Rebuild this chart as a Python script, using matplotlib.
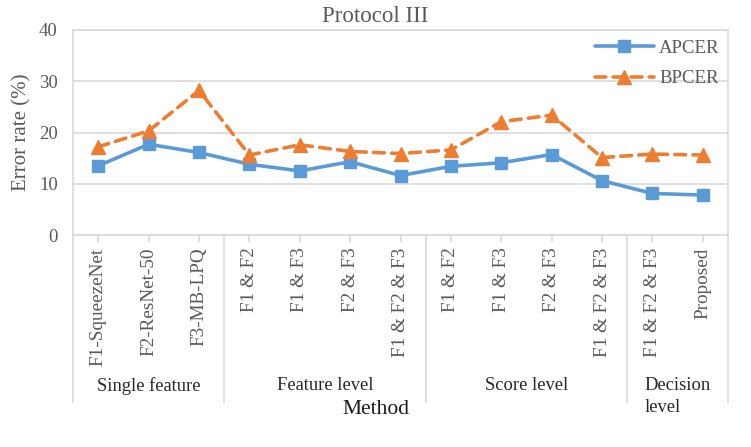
import matplotlib
matplotlib.use("Agg")
import matplotlib.pyplot as plt

# ----------------------------------------------------------------------
# data
# ----------------------------------------------------------------------
methods = [
    "F1-SqueezeNet", "F2-ResNet-50", "F3-MB-LPQ",
    "F1 & F2", "F1 & F3", "F2 & F3", "F1 & F2 & F3",
    "F1 & F2", "F1 & F3", "F2 & F3", "F1 & F2 & F3",
    "F1 & F2 & F3", "Proposed",
]
groups = ["Single feature", "Feature level", "Score level", "Decision\nlevel"]
group_sizes = [3, 4, 4, 2]

apcer = [13.5, 17.7, 16.1, 13.8, 12.5, 14.3, 11.6, 13.4, 14.1, 15.7, 10.6, 8.1, 7.8]
bpcer = [17.2, 20.3, 28.2, 15.6, 17.6, 16.3, 15.9, 16.6, 22.1, 23.4, 15.1, 15.8, 15.6]

BLUE = "#5B9BD5"
ORANGE = "#ED7D31"
GRID = "#D9D9D9"
TEXT = "#595959"

plt.rcParams["font.family"] = ["Liberation Serif", "DejaVu Serif"]

fig = plt.figure(figsize=(7.51, 4.47), dpi=100)
ax = fig.add_axes([73 / 751, 1 - 235 / 447, 655 / 751, 205 / 447])

x = list(range(len(methods)))
ax.plot(x, apcer, color=BLUE, lw=2.6, marker="s", ms=8.5, label="APCER",
        solid_capstyle="round", zorder=3)
ax.plot(x, bpcer, color=ORANGE, lw=2.6, ls=(0, (3, 2)), marker="^", ms=9.5,
        label="BPCER", dash_capstyle="round", zorder=3)

ax.set_xlim(-0.5, len(methods) - 0.5)
ax.set_ylim(0, 40)
ax.set_yticks([0, 10, 20, 30, 40])
ax.yaxis.grid(True, color=GRID, lw=1.2)
ax.set_axisbelow(True)
for s in ax.spines.values():
    s.set_color(GRID)
    s.set_linewidth(1.2)

ax.tick_params(axis="y", length=0, labelsize=13.5, labelcolor=TEXT, pad=11)
ax.set_xticks(x)
ax.set_xticklabels(methods, rotation=90, fontsize=13.8, color=TEXT)
ax.tick_params(axis="x", length=5, width=1.2, color=GRID, pad=4)

fig.text(22 / 751, 1 - 132 / 447, "Error rate (%)", rotation=90, ha="center",
         va="center", fontsize=15, color=TEXT)
fig.text(0.5, 1 - 17 / 447, "Protocol III", ha="center", va="center",
         fontsize=16.5, color=TEXT)

# multi-level category axis: group separators + group names
tr = ax.get_xaxis_transform()
edges = [-0.5]
for n in group_sizes:
    edges.append(edges[-1] + n)
for e in edges:
    ax.plot([e, e], [0, -0.815], transform=tr, color=GRID, lw=1.2, clip_on=False)
for i, g in enumerate(groups):
    cx = (edges[i] + edges[i + 1]) / 2
    ax.text(cx, (235 - 377) / 205, g, transform=tr, ha="center", va="top",
            fontsize=13.3, color="#262626", linespacing=1.4,
            multialignment="left")

fig.text(0.5, 1 - 410 / 447, "Method", ha="center", va="center",
         fontsize=15.5, color="#1a1a1a")

ax.legend(loc="upper right", bbox_to_anchor=(1.013, 1.035), frameon=False,
          fontsize=13.5, handlelength=3.1, labelspacing=0.7, handletextpad=0.3,
          labelcolor=TEXT)

fig.savefig("out.png", dpi=100)
